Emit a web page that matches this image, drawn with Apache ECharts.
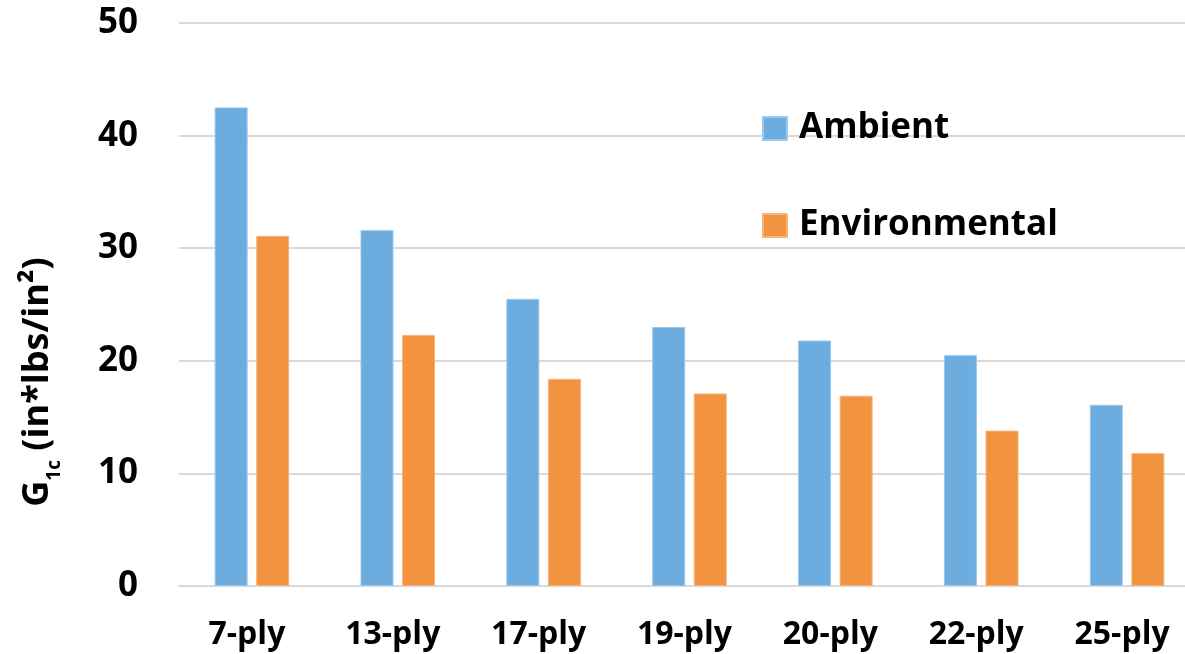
<!DOCTYPE html>
<html>
<head>
<meta charset="utf-8">
<title>G1c by ply count</title>
<script src="https://cdn.jsdelivr.net/npm/echarts@6/dist/echarts.min.js"></script>
<style>
  html, body { margin: 0; padding: 0; background: #fff; }
  #chart { width: 1185px; height: 654px; }
</style>
</head>
<body>
<div id="chart"></div>
<script>
// Laminate ply counts
const categories = ['7-ply', '13-ply', '17-ply', '19-ply', '20-ply', '22-ply', '25-ply'];
// G1c (in*lbs/in²) per conditioning
const ambient = [42.5, 31.6, 25.5, 23.0, 21.8, 20.5, 16.1];
const environmental = [31.1, 22.3, 18.4, 17.1, 16.9, 13.8, 11.8];
// Value axis ticks
const yTicks = [0, 10, 20, 30, 40, 50];

const FONT = '"Open Sans", "Liberation Sans", sans-serif';
const GRID_COLOR = '#D9D9D9';

const chart = echarts.init(document.getElementById('chart'), null, { renderer: 'canvas' });

chart.setOption({
  backgroundColor: '#ffffff',
  animation: false,
  grid: {
    left: 179,
    top: 23,
    width: 1021,
    height: 563,
    containLabel: false,
    outerBoundsMode: 'none'
  },
  legend: {
    orient: 'vertical',
    left: 762,
    top: 111,
    padding: 0,
    itemWidth: 24,
    itemHeight: 23,
    itemGap: 62,
    icon: 'rect',
    textStyle: {
      fontFamily: FONT,
      fontWeight: 'bold',
      fontSize: 35,
      color: '#000',
      lineHeight: 23,
      padding: [6, 0, 0, 7]
    },
    data: ['Ambient', 'Environmental']
  },
  xAxis: {
    type: 'category',
    data: categories,
    axisTick: { show: false },
    axisLine: { show: true, lineStyle: { color: GRID_COLOR, width: 2 } },
    axisLabel: {
      fontFamily: FONT,
      fontWeight: 'bold',
      fontSize: 32,
      color: '#000',
      margin: 33,
      padding: [0, 10, 0, 0]
    }
  },
  yAxis: {
    type: 'value',
    min: yTicks[0],
    max: yTicks[yTicks.length - 1],
    interval: yTicks[1] - yTicks[0],
    axisLine: { show: false },
    axisTick: { show: false },
    splitLine: { show: true, lineStyle: { color: GRID_COLOR, width: 2 } },
    axisLabel: {
      fontFamily: FONT,
      fontWeight: 'bold',
      fontSize: 35,
      color: '#000',
      margin: 41,
      padding: [12, 0, 0, 0]
    }
  },
  graphic: [{
    type: 'text',
    x: 38,
    y: 382,
    rotation: Math.PI / 2,
    silent: true,
    style: {
      text: '{a|G}{s|1c}{a| (in*lbs/in²)}',
      align: 'center',
      verticalAlign: 'middle',
      fill: '#000',
      rich: {
        a: { fontFamily: FONT, fontWeight: 'bold', fontSize: 36, lineHeight: 52, fill: '#000' },
        s: { fontFamily: FONT, fontWeight: 'bold', fontSize: 19, lineHeight: 10, verticalAlign: 'bottom', fill: '#000' }
      }
    }
  }],
  series: [
    {
      name: 'Ambient',
      type: 'bar',
      data: ambient,
      barWidth: 33,
      barGap: '26%',
      itemStyle: { color: '#6DACDE', borderColor: '#9CC8EB', borderWidth: 1 }
    },
    {
      name: 'Environmental',
      type: 'bar',
      data: environmental,
      barWidth: 33,
      barGap: '26%',
      itemStyle: { color: '#F29340', borderColor: '#F7B47C', borderWidth: 1 }
    }
  ]
});
</script>
</body>
</html>
